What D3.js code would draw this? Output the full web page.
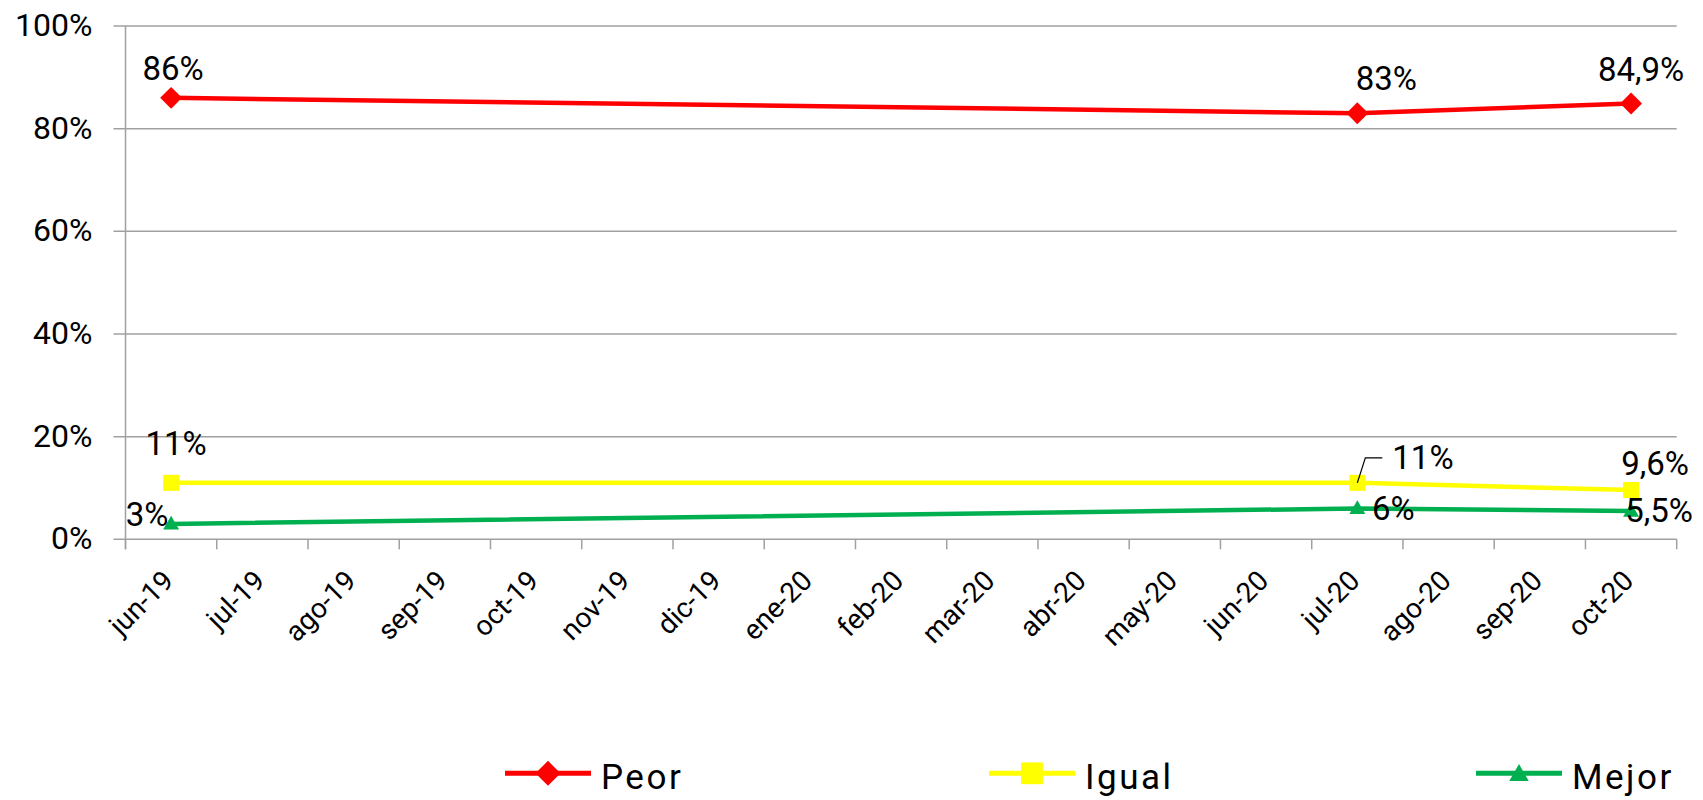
<!DOCTYPE html>
<html><head><meta charset="utf-8">
<script src="https://cdn.jsdelivr.net/npm/d3@7"></script>
<style>
html,body{margin:0;padding:0;background:#fff;}
svg text{font-family:Roboto,"DejaVu Sans",sans-serif;fill:#000;}
</style></head>
<body><svg id="c" width="1703" height="800"></svg>
<script>
// ---- data ----
const months = ["jun-19","jul-19","ago-19","sep-19","oct-19","nov-19","dic-19","ene-20","feb-20","mar-20","abr-20","may-20","jun-20","jul-20","ago-20","sep-20","oct-20"];
const surveyMonths = ["jun-19","jul-20","oct-20"];
const peor  = [0.86, 0.83, 0.849];
const igual = [0.11, 0.11, 0.096];
const mejor = [0.03, 0.06, 0.055];
const peorLabels  = ["86%","83%","84,9%"];
const igualLabels = ["11%","11%","9,6%"];
const mejorLabels = ["3%","6%","5,5%"];
const yTicks = [0, 0.2, 0.4, 0.6, 0.8, 1.0];
const seriesNames = ["Peor","Igual","Mejor"];

// ---- layout / style (not data) ----
const L = 125.5, R = 1676.7, T = 26, B = 539.3;
const colors = {Peor:"#FF0000", Igual:"#FFFF00", Mejor:"#00B050"};
// label offsets (dx, dy from point, text anchored at middle / baseline)
const labelPos = {
  Peor:  [[2,-18],[29,-23],[10,-23]],
  Igual: [[5,-28],[0,0],[24,-15]],
  Mejor: [[-24,2],[36,11],[28,11]]
};

const svg = d3.select("#c");
const x = d3.scaleBand().domain(months).range([L, R]).padding(0);
const y = d3.scaleLinear().domain([0, 1]).range([B, T]);
const cx = m => x(m) + x.bandwidth()/2;

// gridlines
svg.append("g").selectAll("line").data(yTicks).join("line")
  .attr("x1", L - 12).attr("x2", R)
  .attr("y1", d => y(d)).attr("y2", d => y(d))
  .attr("stroke", "#a0a0a0").attr("stroke-width", 1.5);
// y axis line
svg.append("line").attr("x1", L).attr("x2", L).attr("y1", T).attr("y2", B + 10)
  .attr("stroke", "#a0a0a0").attr("stroke-width", 1.5);
// x ticks at band boundaries
const bounds = months.map(m => x(m)).concat([R]);
svg.append("g").selectAll("line").data(bounds).join("line")
  .attr("x1", d => d).attr("x2", d => d).attr("y1", B).attr("y2", B + 10)
  .attr("stroke", "#a0a0a0").attr("stroke-width", 1.5);

// y labels
const yAx = svg.append("g").attr("transform", `translate(${L - 33},0)`)
  .call(d3.axisLeft(y).tickValues(yTicks).tickFormat(d3.format(".0%")).tickSize(0).tickPadding(0));
yAx.select(".domain").remove();
yAx.selectAll("text").style("font-size", "32px").attr("dy", "0.30em")
  .style("font-family", "Roboto, sans-serif").attr("fill", "#000");

// x labels
const xAx = svg.append("g").attr("transform", `translate(0,${B})`)
  .call(d3.axisBottom(x).tickSize(0).tickPadding(0));
xAx.select(".domain").remove();
xAx.selectAll("text")
  .style("font-size", "28px").style("font-family", "Roboto, sans-serif").attr("fill", "#000")
  .attr("text-anchor", "end").attr("dy", 0).attr("y", 0)
  .attr("transform", "translate(4,43) rotate(-45)");

// series
const series = [
  {name:"Peor", vals:peor, labels:peorLabels, sym:"diamond"},
  {name:"Igual", vals:igual, labels:igualLabels, sym:"square"},
  {name:"Mejor", vals:mejor, labels:mejorLabels, sym:"triangle"}
];
const line = d3.line().x(d => cx(d.m)).y(d => y(d.v));

function marker(sel, sym, scale) {
  if (sym === "diamond") sel.attr("d", d3.symbol(d3.symbolSquare, 240 * scale)()).attr("data-rot", 45);
  else if (sym === "square") sel.attr("d", d3.symbol(d3.symbolSquare, 256 * scale)());
  else sel.attr("d", d3.symbol(d3.symbolTriangle, 110 * scale)());
}

series.forEach(s => {
  const pts = surveyMonths.map((m, i) => ({m, v: s.vals[i], lab: s.labels[i], i}));
  const g = svg.append("g");
  g.append("path").datum(pts).attr("d", line)
    .attr("fill", "none").attr("stroke", colors[s.name]).attr("stroke-width", 4.5)
    .attr("stroke-linejoin", "round");
  g.selectAll("path.m").data(pts).join("path").attr("class", "m")
    .call(marker, s.sym, 1)
    .attr("fill", colors[s.name])
    .attr("transform", d => `translate(${cx(d.m)},${y(d.v) + (s.sym === "triangle" ? 1 : 0)})` + (s.sym === "diamond" ? " rotate(45)" : ""));
});

// data labels
series.forEach(s => {
  surveyMonths.forEach((m, i) => {
    const px = cx(m), py = y(s.vals[i]);
    if (s.name === "Igual" && i === 1) {
      // label with leader line
      svg.append("path")
        .attr("d", d3.line()([[px, py], [px + 8, py - 25], [px + 25, py - 25]]))
        .attr("fill", "none").attr("stroke", "#000").attr("stroke-width", 1.2);
      svg.append("text").attr("x", px + 35).attr("y", py - 14)
        .attr("text-anchor", "start").style("font-size", "33px").text(s.labels[i]);
      return;
    }
    const off = labelPos[s.name][i];
    svg.append("text").attr("x", px + off[0]).attr("y", py + off[1])
      .attr("text-anchor", "middle").style("font-size", "33px").text(s.labels[i]);
  });
});

// legend
const legendItems = [
  {name:"Peor", x0:505, sym:"diamond"},
  {name:"Igual", x0:989, sym:"square"},
  {name:"Mejor", x0:1476, sym:"triangle"}
];
const lg = svg.append("g");
const ly = 773.3;
legendItems.forEach(it => {
  lg.append("line").attr("x1", it.x0).attr("x2", it.x0 + 86).attr("y1", ly).attr("y2", ly)
    .attr("stroke", colors[it.name]).attr("stroke-width", 5);
  const sc = it.sym === "diamond" ? 1.3 : (it.sym === "square" ? 1.85 : 1.5);
  lg.append("path").call(marker, it.sym, sc).attr("fill", colors[it.name])
    .attr("transform", `translate(${it.x0 + 43},${ly + (it.sym === "triangle" ? 2 : 0)})` + (it.sym === "diamond" ? " rotate(45)" : ""));
  lg.append("text").attr("x", it.x0 + 96).attr("y", 789.3)
    .style("font-size", "35px").style("letter-spacing", "2.5px").text(it.name);
});
</script>
</body></html>
